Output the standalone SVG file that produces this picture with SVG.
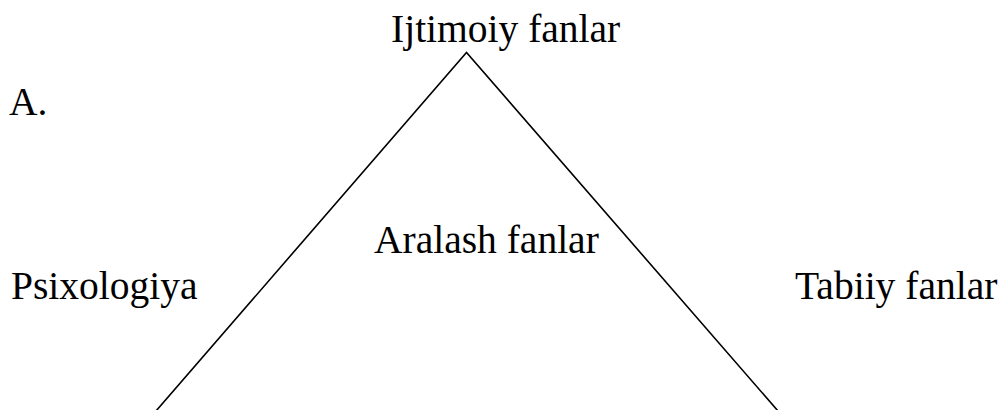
<svg xmlns="http://www.w3.org/2000/svg" width="1003" height="410" viewBox="0 0 1003 410">
<style>
text{font-family:'Liberation Serif','DejaVu Serif',serif;font-size:39.5px;fill:#000}
.ln{stroke:#000;stroke-width:1.6;fill:none}
</style>
<rect width="1003" height="410" fill="#fff"/>
<g id="connectors">
<path class="ln" d="M156,411 L466.5,52.5 L778,411"/>
</g>
<g id="n-ijtimoiy"><text x="391" y="42" font-family="Liberation Serif">Ijtimoiy fanlar</text></g>
<g id="n-a"><text x="9" y="115" font-family="Liberation Serif">A.</text></g>
<g id="n-aralash"><text x="374" y="253" font-family="Liberation Serif">Aralash fanlar</text></g>
<g id="n-psix"><text x="11" y="299" font-family="Liberation Serif">Psixologiya</text></g>
<g id="n-tabiiy"><text x="795" y="299" font-family="Liberation Serif">Tabiiy fanlar</text></g>
</svg>
